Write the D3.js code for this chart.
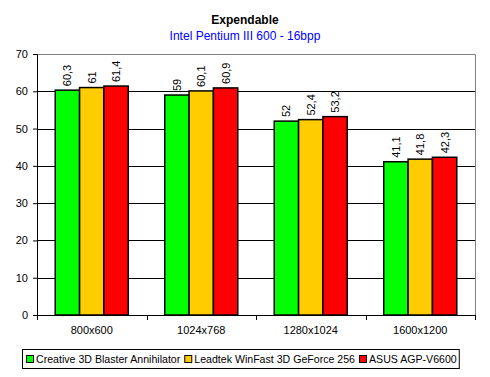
<!DOCTYPE html>
<html>
<head>
<meta charset="utf-8">
<script src="https://cdn.jsdelivr.net/npm/d3@7"></script>
<style>
  body { margin: 0; background: #fff; }
  svg { font-family: "Liberation Sans", Arial, sans-serif; }
</style>
</head>
<body>
<svg width="490" height="377"></svg>
<script>
var categories = ["800x600", "1024x768", "1280x1024", "1600x1200"];
var seriesNames = ["Creative 3D Blaster Annihilator", "Leadtek WinFast 3D GeForce 256", "ASUS AGP-V6600"];
var seriesColors = ["#00ff00", "#ffcc00", "#ff0000"];
var creative = [60.3, 59, 52, 41.1];
var leadtek = [61, 60.1, 52.4, 41.8];
var asus = [61.4, 60.9, 53.2, 42.3];
var yTicks = [0, 10, 20, 30, 40, 50, 60, 70];

var series = [creative, leadtek, asus];
var font = "'Liberation Sans', Arial, sans-serif";
var margin = {top: 54, right: 15, bottom: 62, left: 37},
    width = 490 - margin.left - margin.right,
    height = 377 - margin.top - margin.bottom;

var svg = d3.select("svg");

svg.append("text")
  .attr("x", 245).attr("y", 24)
  .attr("text-anchor", "middle")
  .style("font-size", "12px").style("font-weight", "bold")
  .text("Expendable");
svg.append("text")
  .attr("x", 245).attr("y", 40)
  .attr("text-anchor", "middle")
  .style("font-size", "12px").style("fill", "#0000ff")
  .text("Intel Pentium III 600 - 16bpp");

var g = svg.append("g")
  .attr("transform", "translate(" + margin.left + "," + margin.top + ")");

var x = d3.scaleBand().domain(categories).range([0, width]).paddingInner(0.333).paddingOuter(0.1665);
var x1 = d3.scaleBand().domain([0, 1, 2]).range([0, x.bandwidth()]);
var y = d3.scaleLinear().domain([0, 70]).range([height, 0]);

// plot border (gray top/right)
g.append("path")
  .attr("d", "M0,0.5H" + (width + 0.5) + "V" + height)
  .attr("fill", "none").attr("stroke", "#808080");

// gridlines
g.selectAll(".grid")
  .data(yTicks.filter(d => d > 0 && d < 70))
  .enter().append("line")
  .attr("x1", 0).attr("x2", width)
  .attr("y1", d => Math.round(y(d)) + 0.5).attr("y2", d => Math.round(y(d)) + 0.5)
  .attr("stroke", "#000");

// bars
var groups = g.selectAll(".grp")
  .data(categories)
  .enter().append("g")
  .attr("transform", d => "translate(" + x(d) + ",0)");

groups.each(function(cat, ci) {
  var gg = d3.select(this);
  series.forEach(function(vals, si) {
    gg.append("rect")
      .attr("x", x1(si))
      .attr("y", y(vals[ci]))
      .attr("width", x1.bandwidth())
      .attr("height", height - y(vals[ci]))
      .attr("fill", seriesColors[si])
      .attr("stroke", "#000").attr("stroke-width", 1.5);
    var lx = x1(si) + x1.bandwidth() / 2 + 4;
    var ly = y(vals[ci]) - 4;
    gg.append("text")
      .attr("transform", "translate(" + lx + "," + ly + ") rotate(-90)")
      .style("font-size", "11px")
      .text(String(vals[ci]).replace(".", ","));
  });
});

// y axis
var yAxis = g.append("g")
  .call(d3.axisLeft(y).tickValues(yTicks).tickSize(4).tickPadding(5));
yAxis.select(".domain").attr("stroke", "#000");
yAxis.selectAll("text").style("font-size", "11px").style("font-family", font);

// x axis
var xAxis = g.append("g").attr("transform", "translate(0," + height + ")");
xAxis.append("line").attr("x1", 0).attr("x2", width).attr("y1", 0.5).attr("y2", 0.5).attr("stroke", "#000");
var tickPos = d3.range(categories.length + 1).map(i => i * width / categories.length);
xAxis.selectAll(".tk").data(tickPos).enter().append("line")
  .attr("x1", d => Math.round(d) + 0.5).attr("x2", d => Math.round(d) + 0.5)
  .attr("y1", 0).attr("y2", 5).attr("stroke", "#000");
xAxis.selectAll(".lb").data(categories).enter().append("text")
  .attr("x", d => x(d) + x.bandwidth() / 2)
  .attr("y", 19)
  .attr("text-anchor", "middle")
  .style("font-size", "11px")
  .text(d => d);

// legend
var legend = svg.append("g");
var lbox = legend.append("rect")
  .attr("x", 22.5).attr("y", 349.5).attr("width", 438).attr("height", 19)
  .attr("fill", "#fff").attr("stroke", "#000");
var lx = 26;
seriesNames.forEach(function(name, i) {
  legend.append("rect")
    .attr("x", lx + 0.5).attr("y", 355.5).attr("width", 7).attr("height", 7)
    .attr("fill", seriesColors[i]).attr("stroke", "#000");
  var t = legend.append("text")
    .attr("x", lx + 10).attr("y", 363)
    .style("font-size", "10.6px")
    .text(name);
  lx += 10 + t.node().getComputedTextLength() + 4;
});
lbox.attr("width", lx - 22 - 2);
</script>
</body>
</html>
